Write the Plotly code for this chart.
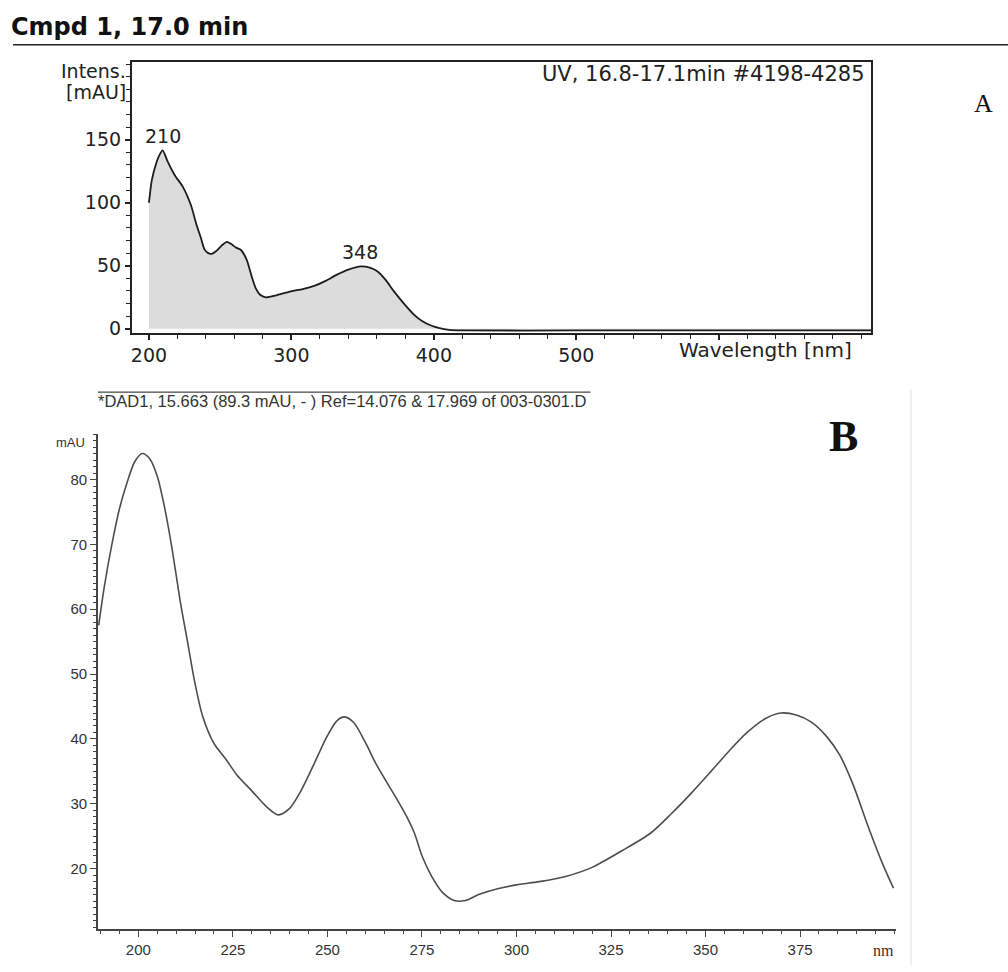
import plotly.graph_objects as go

# ---------------- Data ----------------
# Panel A: UV spectrum (Intens. [mAU] vs wavelength [nm])
A_wavelength = [200, 202, 205, 207, 209.6, 213, 218, 223.6, 229.5, 233, 236.5, 239, 241.6, 244,
                247, 251, 254.7, 258, 261, 264.6, 267, 269, 272, 275, 278, 282, 290, 299.6,
                308, 316, 324, 332, 340, 348.8, 355, 360.5, 366, 372, 379, 386, 392, 398,
                404, 410.5, 420, 500, 600, 707]
A_intensity = [100, 118, 131, 137, 141.5, 133, 122, 113, 98, 84, 72, 63, 60, 59.5,
               61.5, 66, 69, 67, 64.5, 62.5, 58.5, 53.6, 42, 32, 27, 25, 26.8, 29.7,
               31.5, 34, 38, 43, 47, 49.5, 48.5, 45.5, 39, 29.7, 20, 11.3, 6, 2.6,
               0.5, -0.8, -1.3, -1.3, -1.3, -1.3]
A_peak_labels = ["210", "348"]
A_peak_x = [210, 348]
A_peak_y = [141.5, 49.5]
A_xticks = [200, 300, 400, 500, 600]
A_xticktext = ["200", "300", "400", "500", ""]
A_yticks = [0, 50, 100, 150]

# Panel B: DAD spectrum (mAU vs nm)
B_wavelength = [189.5, 191, 193, 195, 197, 199, 201, 203, 205, 207, 209, 211, 213, 215, 217,
                220, 223, 226, 230, 234, 237, 240, 243, 246.5, 250, 252.5, 254.5, 257, 260,
                263, 268.5, 271, 273, 275, 277.5, 280.5, 283.5, 286.5, 290, 295, 300, 306, 313,
                320, 328, 335.5, 341, 346, 351, 356, 361, 366, 370, 374, 378, 382, 385.5,
                389, 393, 397, 399.7]
B_mAU = [57.5, 63.5, 70, 75.5, 79.5, 82.7, 84, 83.2, 80.5, 75.5, 69, 61.5, 55, 48.5, 43.5,
         39.3, 37, 34.5, 32, 29.5, 28.3, 29.3, 32, 36.2, 40.5, 42.8, 43.4, 42.5, 39.5,
         36, 30.6, 28, 25.5, 22, 18.9, 16.3, 15.1, 15.1, 16, 16.9, 17.5, 18, 18.8,
         20.2, 22.8, 25.5, 28.5, 31.5, 34.7, 38, 41, 43.2, 44, 43.7, 42.6, 40.4, 37.5,
         33, 26.5, 20.5, 17]
B_xticks = [200, 225, 250, 275, 300, 325, 350, 375]
B_yticks = [20, 30, 40, 50, 60, 70, 80]

# ---------------- Helpers (pixel -> paper) ----------------
W, H = 1008, 972


def px(x):
    return x / W


def py(y):
    return 1 - y / H


A_FONT = "DejaVu Sans"
B_FONT = "Liberation Sans, Arial, sans-serif"

fig = go.Figure()

fig.add_trace(go.Scatter(
    x=A_wavelength, y=A_intensity, mode="lines",
    line=dict(color="#1c1c1c", width=1.8, shape="spline", smoothing=0.7),
    fill="tozeroy", fillcolor="#dcdcdc",
    xaxis="x", yaxis="y", hoverinfo="skip"))

fig.add_trace(go.Scatter(
    x=B_wavelength, y=B_mAU, mode="lines",
    line=dict(color="#4d4d4d", width=1.6, shape="spline", smoothing=0.8),
    xaxis="x2", yaxis="y2", hoverinfo="skip"))

axA_common = dict(showline=True, linecolor="#222222", linewidth=2, mirror=True,
                  ticks="outside", tickcolor="#222222", tickwidth=1.5, ticklen=5,
                  showgrid=False, zeroline=False,
                  tickfont=dict(family=A_FONT, size=19, color="#222222"))

fig.update_layout(
    width=W, height=H,
    margin=dict(l=0, r=0, t=0, b=0),
    paper_bgcolor="white", plot_bgcolor="white",
    showlegend=False,
    xaxis=dict(domain=[px(131), px(871)], range=[188, 707], anchor="y",
               tickmode="array", tickvals=A_xticks, ticktext=A_xticktext,
               minor=dict(tickmode="linear", tick0=200, dtick=20, ticks="outside",
                          ticklen=4, tickcolor="#222222", tickwidth=1.2, showgrid=False),
               **axA_common),
    yaxis=dict(domain=[py(335), py(62)], range=[-3, 212], anchor="x",
               tickmode="array", tickvals=A_yticks,
               minor=dict(tickmode="linear", tick0=0, dtick=10, ticks="outside",
                          ticklen=4, tickcolor="#222222", tickwidth=1.2, showgrid=False),
               **axA_common),
    xaxis2=dict(domain=[px(97), px(896)], range=[189.3, 400.4], anchor="y2",
                showline=True, linecolor="#444444", linewidth=1.6, mirror=False,
                ticks="outside", tickcolor="#444444", tickwidth=1.2, ticklen=6,
                tickmode="array", tickvals=B_xticks,
                minor=dict(tickmode="linear", tick0=200, dtick=5, ticks="outside",
                           ticklen=3, tickcolor="#444444", tickwidth=1, showgrid=False),
                showgrid=False, zeroline=False,
                tickfont=dict(family=B_FONT, size=15, color="#333333")),
    yaxis2=dict(domain=[py(936), py(437)], range=[10.66, 87.04], anchor="x2",
                showline=True, linecolor="#444444", linewidth=1.6, mirror=False,
                ticks="outside", tickcolor="#444444", tickwidth=1.2, ticklen=6,
                tickmode="array", tickvals=B_yticks,
                minor=dict(tickmode="linear", tick0=0, dtick=1, ticks="outside",
                           ticklen=3, tickcolor="#444444", tickwidth=1, showgrid=False),
                showgrid=False, zeroline=False,
                tickfont=dict(family=B_FONT, size=15, color="#333333")),
)

annotations = [
    dict(text="<b>Cmpd 1, 17.0 min</b>", x=px(8), y=py(27), xanchor="left", yanchor="middle",
         font=dict(family=A_FONT, size=24, color="#111111")),
    dict(text="Intens.", x=px(127), y=py(72), xanchor="right", yanchor="middle",
         font=dict(family=A_FONT, size=19, color="#222222")),
    dict(text="[mAU]", x=px(127), y=py(93), xanchor="right", yanchor="middle",
         font=dict(family=A_FONT, size=19, color="#222222")),
    dict(text="UV, 16.8-17.1min #4198-4285", x=px(867), y=py(75), xanchor="right",
         yanchor="middle", font=dict(family=A_FONT, size=21, color="#222222")),
    dict(text="Wavelength [nm]", x=px(765), y=py(353), xanchor="center", yanchor="middle",
         font=dict(family=A_FONT, size=20, color="#222222")),
    dict(text="A", x=px(983), y=py(104), xanchor="center", yanchor="middle",
         font=dict(family="Liberation Serif", size=26, color="#111111")),
    dict(text="*DAD1, 15.663 (89.3 mAU, - ) Ref=14.076 &amp; 17.969 of 003-0301.D",
         x=px(95), y=py(404), xanchor="left", yanchor="middle",
         font=dict(family=B_FONT, size=16.5, color="#333333")),
    dict(text="mAU", x=px(86), y=py(446), xanchor="right", yanchor="middle",
         font=dict(family=B_FONT, size=13, color="#333333")),
    dict(text="<b>B</b>", x=px(843), y=py(440), xanchor="center", yanchor="middle",
         font=dict(family="Liberation Serif", size=44, color="#111111")),
    dict(text="nm", x=px(883), y=py(957), xanchor="center", yanchor="middle",
         font=dict(family="Liberation Serif", size=16, color="#333333")),
]
for lab, xv, yv in zip(A_peak_labels, A_peak_x, A_peak_y):
    annotations.append(dict(text=lab, x=xv, y=yv, xref="x", yref="y", showarrow=False,
                            xanchor="center", yanchor="bottom", yshift=1,
                            font=dict(family=A_FONT, size=19, color="#222222")))

for a in annotations:
    a.setdefault("xref", "paper")
    a.setdefault("yref", "paper")
    a.setdefault("showarrow", False)
fig.update_layout(annotations=annotations)

fig.update_layout(shapes=[
    dict(type="line", xref="paper", yref="paper", x0=px(12), x1=px(1008), y0=py(45), y1=py(45),
         line=dict(color="#222222", width=1.6)),
    dict(type="line", xref="paper", yref="paper", x0=px(97), x1=px(590), y0=py(395), y1=py(395),
         line=dict(color="#444444", width=1.4)),
    dict(type="line", xref="paper", yref="paper", x0=px(911), x1=px(911), y0=py(392), y1=py(972),
         line=dict(color="#ececec", width=1.5)),
])

fig.write_html("out.html")
